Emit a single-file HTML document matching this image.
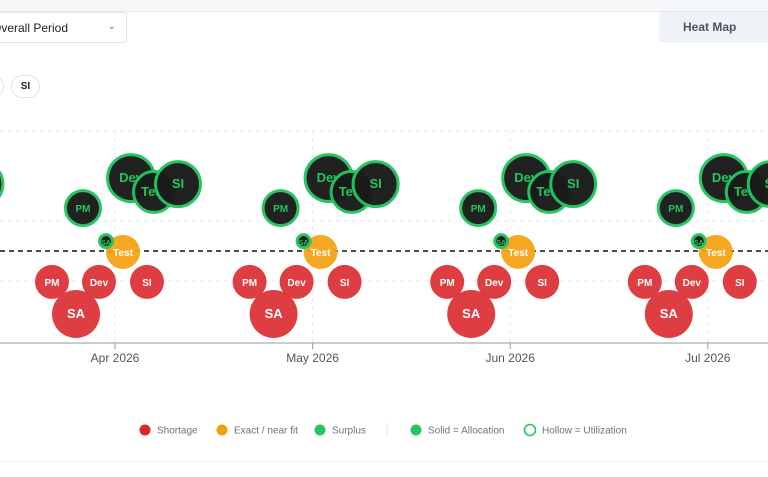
<!DOCTYPE html>
<html><head><meta charset="utf-8"><style>
body{margin:0;width:768px;height:477px;overflow:hidden;background:#fff;font-family:"Liberation Sans",sans-serif;position:relative}
.top{position:absolute;left:0;top:0;width:768px;height:11px;background:#f6f7f9;border-bottom:1px solid #e5e7eb}
.dd{position:absolute;left:-19px;top:12px;width:146px;height:31px;border:1px solid #dfe3ea;border-radius:4px;background:#fff;font-size:12px;color:#222;line-height:30px;padding-left:10px;box-sizing:border-box}
.hm{position:absolute;left:659px;top:12px;width:120px;height:31px;background:#eff2f6;border-radius:4px;font-size:12px;color:#4b5563;font-weight:bold;line-height:31px;padding-left:24px;box-sizing:border-box}
.chip{position:absolute;top:75px;height:21px;border:1px solid #e1e4ea;border-radius:11px;font-size:10px;font-weight:bold;line-height:21px;text-align:center;color:#222;background:#fff}
.bot{position:absolute;left:0;top:461px;width:768px;height:1px;background:#eceef2}
</style></head><body>
<div class="top"></div>
<div class="dd">Overall Period<span style="position:absolute;right:10px;top:-1px;color:#777;font-size:10px">&#8964;</span></div>
<div class="hm">Heat Map</div>
<div class="chip" style="left:-20px;width:22px"></div>
<div class="chip" style="left:11px;width:27px">SI</div>
<svg id="chart" width="768" height="477" style="position:absolute;left:0;top:0"></svg>
<div class="bot"></div>
<script>
const months=["Mar 2026","Apr 2026","May 2026","Jun 2026","Jul 2026","Aug 2026"];
const roles=["PM","SA","Dev","Test","SI"];
const allocGap=[1.43,0.33,2.43,1.97,2.23];
const utilGap=[-1.03,-2.1,-1.03,-0.03,-1.03];
const allocSize=[19,8,25,22,24];
const utilSize=[17,24,17,17,17];
const yTicks=[4,1,-1];
const roleOffsetA=[-32,-9,16,39,63];
const roleOffsetU=[-63,-39,-16,8,32];
const svg=document.getElementById('chart');
const NS='http://www.w3.org/2000/svg';
const x0=-82.6,dx=197.6;
function xScale(i){return x0+i*dx;}
function yScale(v){return 251-v*30;}
function mk(t,a){const e=document.createElementNS(NS,t);for(const k in a)e.setAttribute(k,a[k]);svg.appendChild(e);return e;}
function fs(r){return r>20?13:(r<10?7:10);}
yTicks.forEach(v=>{const l=mk('line',{x1:0,x2:768,y1:yScale(v),y2:yScale(v),stroke:'#e6e9ef','stroke-dasharray':'4 4'});

});
months.forEach((m,i)=>{const x=xScale(i);
const g=mk('line',{x1:x,x2:x,y1:130,y2:343,stroke:'#e6e9ef','stroke-dasharray':'4 4'});

});
const zl=mk('line',{x1:0,x2:768,y1:yScale(0),y2:yScale(0),stroke:'#111','stroke-width':1.5,'stroke-dasharray':'5 4'});


const ax=mk('line',{x1:0,x2:768,y1:343,y2:343,stroke:'#999'});


months.forEach((m,i)=>{const x=xScale(i);
const tk=mk('line',{x1:x,x2:x,y1:343,y2:349,stroke:'#999'});


const t=mk('text',{x:x,y:362,'text-anchor':'middle','font-size':12,fill:'#555'});t.textContent=m;

});
function col(v){return v>0.3?'#22c55e':(v<-0.3?'#dc3338':'#f5a316');}
months.forEach((m,i)=>{
 roles.forEach((r,j)=>{const v=utilGap[j];const c=mk('circle',{cx:xScale(i)+roleOffsetU[j],cy:yScale(v),r:utilSize[j],fill:col(v),opacity:0.95});
 
 
 const t=mk('text',{x:xScale(i)+roleOffsetU[j],y:yScale(v)+4,'text-anchor':'middle','font-size':fs(utilSize[j]),'font-weight':'bold',fill:'#fff'});t.textContent=r;
 
 });
 roles.forEach((r,j)=>{const v=allocGap[j];const c=mk('circle',{cx:xScale(i)+roleOffsetA[j],cy:yScale(v),r:allocSize[j]-1.5,fill:'#1a1a1a',stroke:col(v),'stroke-width':3,opacity:0.97});
 
 
 const t=mk('text',{x:xScale(i)+roleOffsetA[j],y:yScale(v)+4,'text-anchor':'middle','font-size':fs(allocSize[j]),'font-weight':'bold',fill:'#22c55e'});t.textContent=r;
 
 });
});
const leg=[["Shortage",'#dc2626',0,145],["Exact / near fit",'#f59e0b',0,222],["Surplus",'#22c55e',0,320],["Solid = Allocation",'#22c55e',0,416],["Hollow = Utilization",'#22c55e',1,530]];
leg.forEach(L=>{const c=mk('circle',{cx:L[3],cy:430,r:5.5,fill:L[2]?'#fff':L[1],stroke:L[1],'stroke-width':L[2]?1.6:0});


const t=mk('text',{x:L[3]+12,y:433.5,'font-size':10,fill:'#6b7280'});t.textContent=L[0];

});
const sep=mk('line',{x1:387,x2:387,y1:423,y2:437,stroke:'#e5e7eb'});


</script>
</body></html>
